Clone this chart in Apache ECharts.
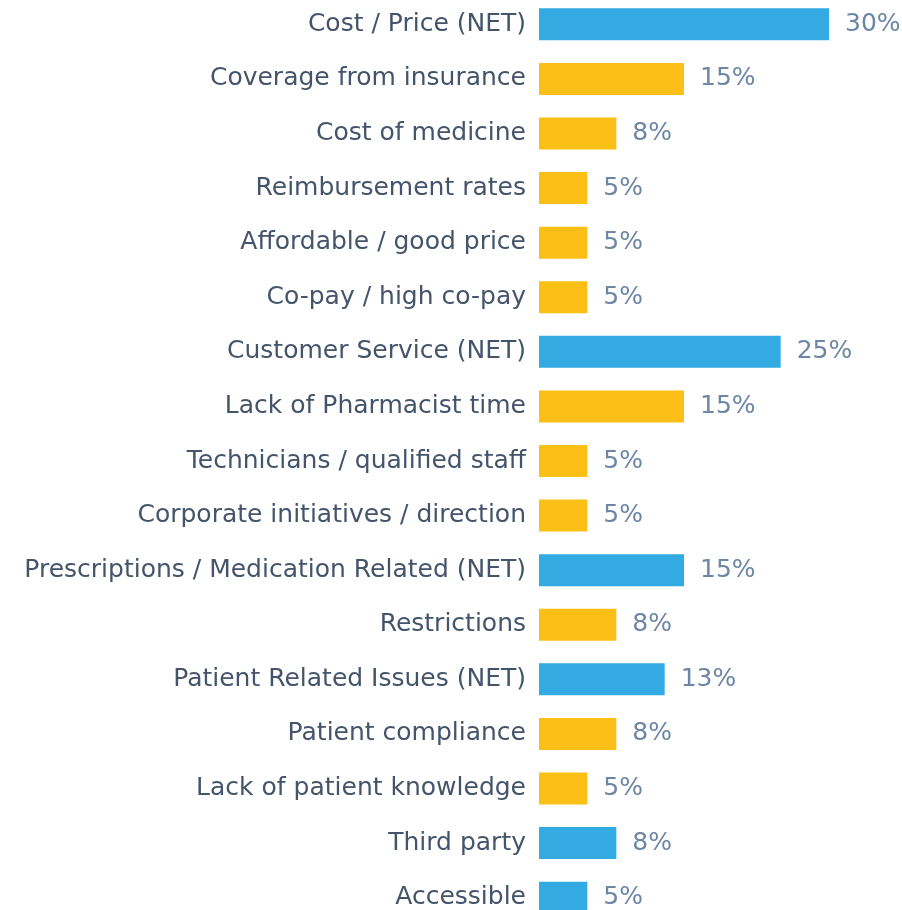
<!DOCTYPE html>
<html>
<head>
<meta charset="utf-8">
<script src="https://cdn.jsdelivr.net/npm/echarts@6/dist/echarts.min.js"></script>
<style>
  html, body { margin: 0; padding: 0; background: #ffffff; }
  #chart { width: 902px; height: 910px; }
</style>
</head>
<body>
<div id="chart"></div>
<script>
// Reasons cited, top to bottom; (NET) rows are group totals.
const categories = [
  'Cost / Price (NET)',
  'Coverage from insurance',
  'Cost of medicine',
  'Reimbursement rates',
  'Affordable / good price',
  'Co-pay / high co-pay',
  'Customer Service (NET)',
  'Lack of Pharmacist time',
  'Technicians / qualified staff',
  'Corporate initiatives / direction',
  'Prescriptions / Medication Related (NET)',
  'Restrictions',
  'Patient Related Issues (NET)',
  'Patient compliance',
  'Lack of patient knowledge',
  'Third party',
  'Accessible'
];
const percentValues = [30, 15, 8, 5, 5, 5, 25, 15, 5, 5, 15, 8, 13, 8, 5, 8, 5];
const isNet = [true, false, false, false, false, false, true, false, false, false, true, false, true, false, false, true, true];

const NET_COLOR = '#33aae1';
const SUB_COLOR = '#fbbf16';
const FONT = 'DejaVu Sans, Verdana, sans-serif';

const chart = echarts.init(document.getElementById('chart'), null, { renderer: 'canvas' });

chart.setOption({
  animation: false,
  backgroundColor: '#ffffff',
  grid: {
    left: 539, top: -3, width: 348, height: 928,
    containLabel: false,
    outerBoundsMode: 'none'
  },
  xAxis: {
    type: 'value',
    min: 0,
    max: 36,
    show: false
  },
  yAxis: {
    type: 'category',
    inverse: true,
    data: categories,
    axisLine: { show: false },
    axisTick: { show: false },
    splitLine: { show: false },
    axisLabel: {
      margin: 13,
      color: '#44546a',
      fontFamily: FONT,
      fontSize: 25
    }
  },
  series: [{
    type: 'bar',
    barWidth: 32,
    data: percentValues.map((v, i) => ({
      value: v,
      itemStyle: { color: isNet[i] ? NET_COLOR : SUB_COLOR }
    })),
    label: {
      show: true,
      position: 'right',
      distance: 16,
      formatter: p => p.value + '%',
      color: '#6d86a6',
      fontFamily: FONT,
      fontSize: 25
    }
  }]
});
</script>
</body>
</html>
